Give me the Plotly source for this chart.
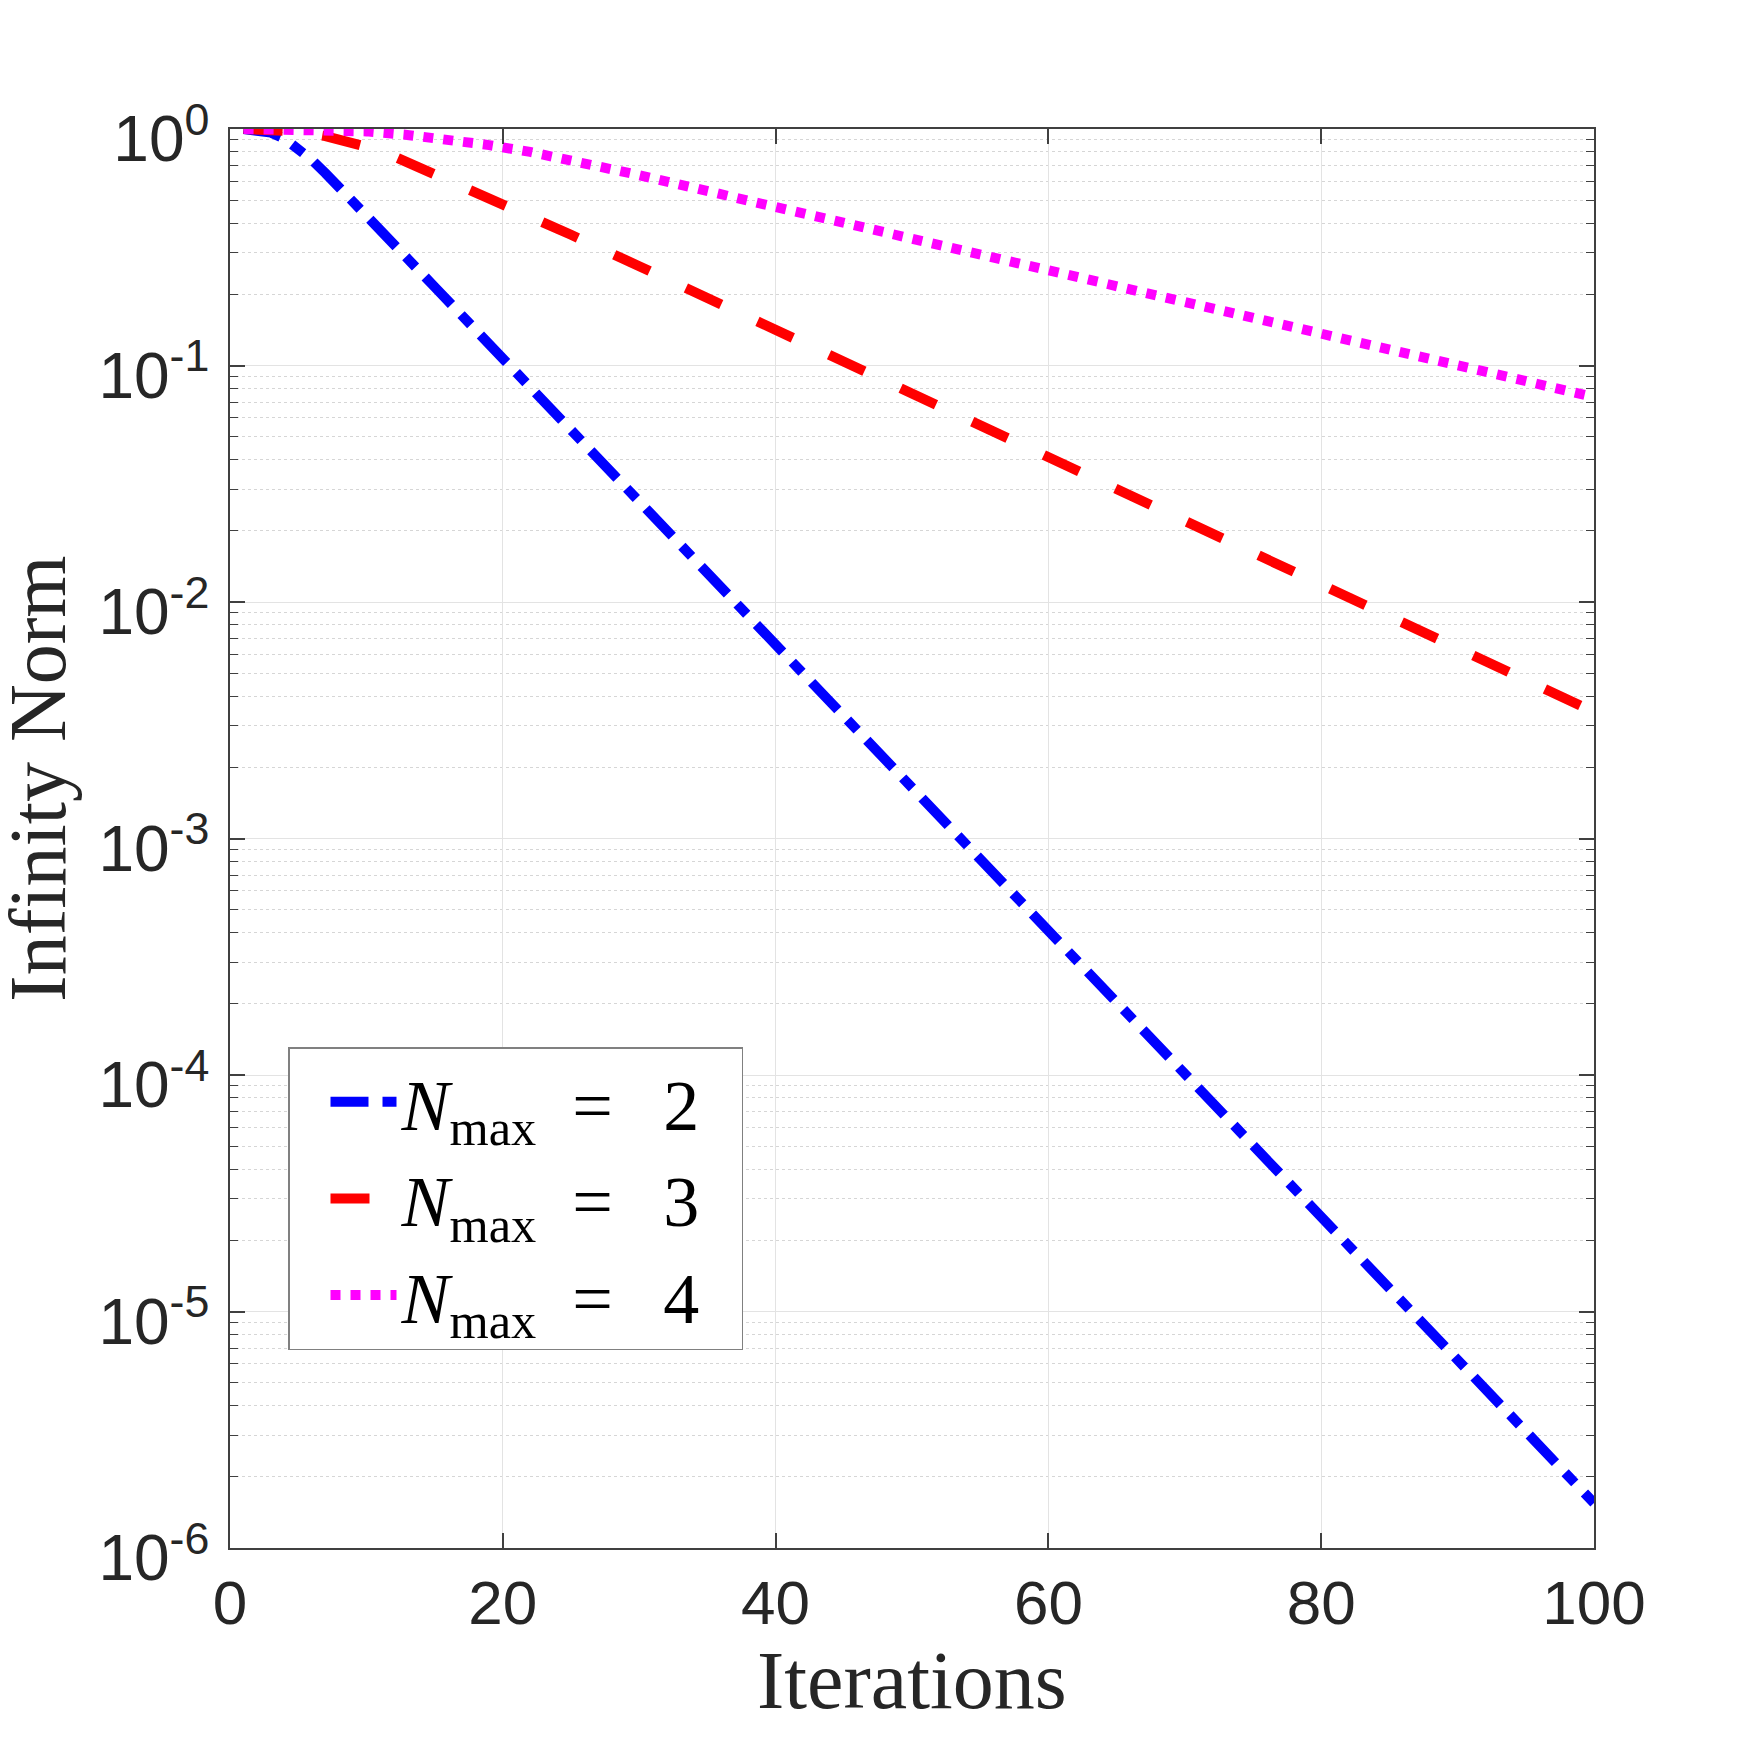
import plotly.graph_objects as go

# ---- data ----
iters_n2 = [1, 2, 3, 4, 5, 6, 7, 8, 10, 15, 20, 30, 40, 50, 60, 70, 80, 90, 100]
norm_n2 = [1.0, 0.99, 0.965, 0.91, 0.83, 0.74, 0.65, 0.57, 0.43, 0.215, 0.107,
           0.0265, 6.6e-3, 1.64e-3, 4.06e-4, 1.01e-4, 2.5e-5, 6.2e-6, 1.55e-6]

iters_n3 = [1, 3, 5, 7, 8, 10, 12, 14, 16, 18, 20, 25, 30, 40, 50, 60, 70, 80, 90, 100]
norm_n3 = [1.0, 0.993, 0.977, 0.933, 0.902, 0.841, 0.767, 0.684, 0.610, 0.543, 0.481,
           0.357, 0.263, 0.141, 0.0759, 0.0407, 0.0219, 0.01175, 6.3e-3, 3.43e-3]

iters_n4 = [1, 4, 7, 10, 13, 16, 19, 22, 25, 30, 40, 50, 60, 70, 80, 90, 100]
norm_n4 = [1.0, 0.999, 0.993, 0.977, 0.944, 0.902, 0.855, 0.80, 0.741, 0.638,
           0.468, 0.345, 0.2535, 0.186, 0.1368, 0.1005, 0.0736]

sp = "\u2002"
thin = "\u2009"
series_names = ["<i>N</i><sub>max</sub>" + sp + "=" + sp + thin + "2" + sp,
                "<i>N</i><sub>max</sub>" + sp + "=" + sp + thin + "3" + sp,
                "<i>N</i><sub>max</sub>" + sp + "=" + sp + thin + "4" + sp]

x_ticks = [0, 20, 40, 60, 80, 100]
y_ticks = [1e-6, 1e-5, 1e-4, 1e-3, 1e-2, 1e-1, 1]
y_ticktext = ["10<sup>-6</sup>", "10<sup>-5</sup>", "10<sup>-4</sup>", "10<sup>-3</sup>",
              "10<sup>-2</sup>", "10<sup>-1</sup>", "10<sup>0</sup>"]
y_minor = [m * 10.0 ** e for e in range(-6, 0) for m in range(2, 10)]

W, H = 1761, 1740
L, R, T, B = 230, 167, 129, 192

fig = go.Figure()
fig.add_trace(go.Scatter(x=iters_n2, y=norm_n2, mode="lines", name=series_names[0],
                         line=dict(color="#0000ff", width=10, dash="38px,14px,14px,14px")))
fig.add_trace(go.Scatter(x=iters_n3, y=norm_n3, mode="lines", name=series_names[1],
                         line=dict(color="#ff0000", width=10, dash="39px,40px")))
fig.add_trace(go.Scatter(x=iters_n4, y=norm_n4, mode="lines", name=series_names[2],
                         line=dict(color="#ff00ff", width=10, dash="10px,10px")))

axcol = "#404040"
sans = "Liberation Sans, Arial, sans-serif"

fig.update_xaxes(range=[0, 100], tickvals=x_ticks, ticks="inside", ticklen=15, tickwidth=1.5,
                 tickcolor=axcol, showline=True, linecolor=axcol, linewidth=1.5,
                 mirror="allticks", showgrid=True, gridcolor="#e3e3e3", gridwidth=1,
                 zeroline=False, tickfont=dict(family=sans, size=62, color="#262626"))
fig.update_yaxes(type="log", range=[-6, 0], tickvals=y_ticks, ticktext=y_ticktext,
                 ticks="inside", ticklen=15, tickwidth=1.5, tickcolor=axcol,
                 showline=True, linecolor=axcol, linewidth=1.5, mirror="allticks",
                 showgrid=True, gridcolor="#e3e3e3", gridwidth=1, zeroline=False,
                 tickfont=dict(family=sans, size=64, color="#262626"),
                 ticklabelstandoff=6, ticklabelshift=10,
                 minor=dict(tickvals=y_minor, ticks="inside", ticklen=8, tickwidth=1.2,
                            tickcolor=axcol, showgrid=True, gridcolor="#d6d6d6",
                            griddash="dot", gridwidth=1))

serif = "Liberation Serif, Times New Roman, serif"
fig.update_layout(
    width=W, height=H, margin=dict(l=L, r=R, t=T, b=B),
    paper_bgcolor="white", plot_bgcolor="white",
    legend=dict(x=(288 - L) / (W - L - R), y=(H - B - 1047) / (H - T - B),
                xanchor="left", yanchor="top",
                font=dict(family=serif, size=72, color="black"),
                bgcolor="white", bordercolor="#808080", borderwidth=1.5,
                itemwidth=66, indentation=36, tracegroupgap=0),
    annotations=[
        dict(text="Iterations", xref="paper", yref="paper",
             x=0.5, y=(H - B - 1633) / (H - T - B), xanchor="center", yanchor="top",
             showarrow=False, font=dict(family=serif, size=82, color="#262626")),
        dict(text="Infinity Norm", xref="paper", yref="paper", textangle=-90,
             x=(38 - L) / (W - L - R), y=(H - B - 778) / (H - T - B),
             xanchor="center", yanchor="middle",
             showarrow=False, font=dict(family=serif, size=80, color="#262626")),
    ],
)

fig.write_html("out.html")
